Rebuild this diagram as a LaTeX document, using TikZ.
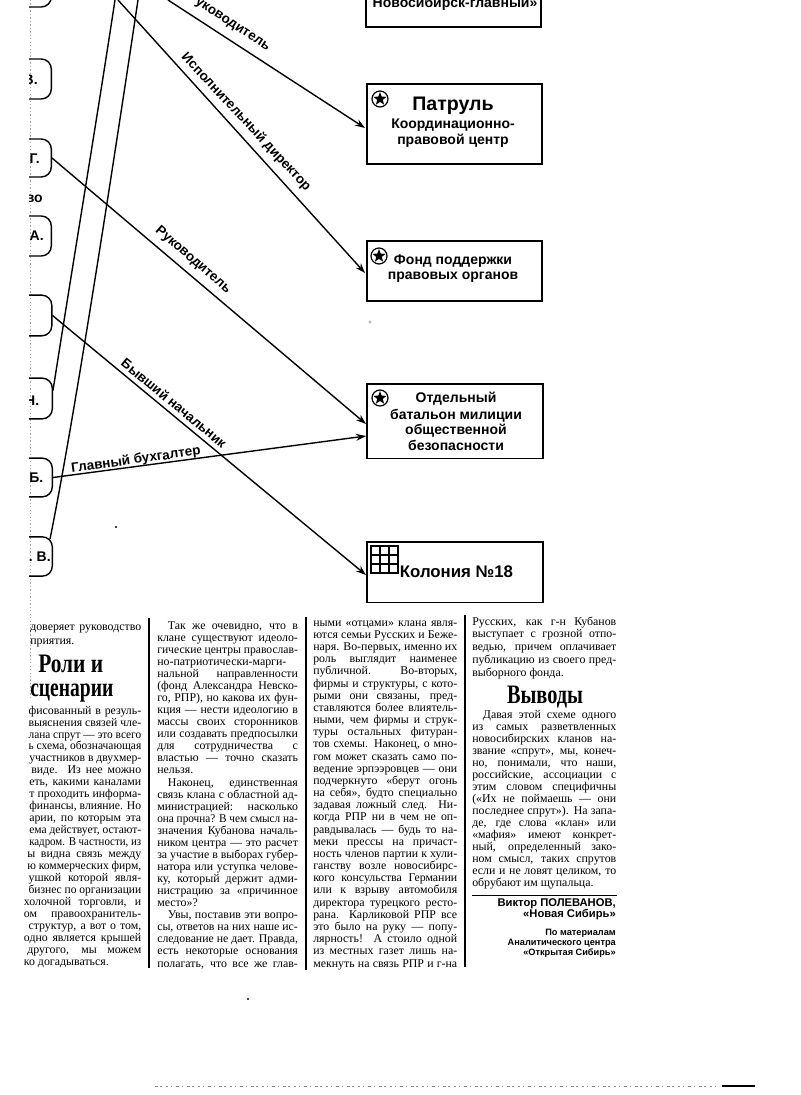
\documentclass[tikz,border=0pt]{standalone}
\usepackage{fontspec}
\setmainfont{Liberation Serif}
\setsansfont{Liberation Sans}
\usetikzlibrary{arrows.meta,shapes.geometric}
\newlength\colw
\newcommand\jl[2][0pt]{\setbox0\hbox{#2}%
  \ifdim\dimexpr\wd0+#1\relax>\colw
    \hbox to\colw{\hskip#1\resizebox{\dimexpr\colw-#1\relax}{\height}{#2}}%
  \else\hbox to\colw{\hskip#1 #2}\fi}
\newcommand\el[2][0pt]{\hbox to\colw{\hskip#1 #2\hfil}}
\newcommand\lead[1]{\baselineskip=#1\lineskiplimit=-\maxdimen}
\tikzset{
  x=0.75pt,y=-0.75pt,
  wire/.style={line width=1.05pt,black},
  arrowed/.style={wire,-{Stealth[length=7.5pt,width=5.2pt]}},
  rbox/.style={draw=black,line width=1.2pt,inner sep=0pt,fill=white},
  lbox/.style={draw=black,line width=1.05pt,rounded corners=7.5pt,inner sep=0pt,minimum width=32.25pt,anchor=east},
  lbl/.style={font=\sffamily\bfseries\fontsize{10.5pt}{10pt}\selectfont,inner sep=0pt},
  boxtxt/.style={font=\sffamily\bfseries\fontsize{10.5pt}{10pt}\selectfont,inner sep=0pt},
  edgetxt/.style={font=\sffamily\bfseries\fontsize{10.1pt}{10pt}\selectfont,inner sep=0pt},
  colbody/.style={font=\fontsize{8.9pt}{9pt}\selectfont,inner sep=0pt,anchor=base west},
  head/.style={font=\bfseries\fontsize{20pt}{20pt}\selectfont,inner sep=0pt},
  credit/.style={font=\sffamily\bfseries\fontsize{8.4pt}{9pt}\selectfont,inner sep=0pt,anchor=base east},
  credits/.style={font=\sffamily\bfseries\fontsize{6.9pt}{8pt}\selectfont,inner sep=0pt,anchor=base east},
  badge/.style={circle,draw=black,line width=0.9pt,minimum size=12pt,inner sep=0pt},
  starf/.style={star,star points=5,star point ratio=2.4,fill=black,minimum size=10.5pt,inner sep=0pt},
  colrule/.style={line width=0.8pt,black},
  noise/.style={black!35,line width=0.4pt},
}
\begin{document}
\begin{tikzpicture}
\useasboundingbox (0,0) rectangle (800,1095);
\fill[white] (0,0) rectangle (800,1095);
% scan edge
\draw[noise,dash pattern=on 1pt off 1.6pt] (30,0) -- (30,700);
\begin{scope}
\clip (29,0) rectangle (800,1095);
\node[lbox,minimum height=40.5pt] (b0) at (52,-20) {};
\node[lbox,minimum height=30pt] (b1) at (52,79) {};
\node[lbox,minimum height=28.5pt] (b2) at (52,158) {};
\node[lbox,minimum height=30pt] (b3) at (52,236) {};
\node[lbox,minimum height=30.5pt] (b4) at (52.5,315.5) {};
\node[lbox,minimum height=30.5pt] (b5) at (53,398.5) {};
\node[lbox,minimum height=29pt] (b6) at (53,477.5) {};
\node[lbox,minimum height=29.5pt] (b7) at (53,556.5) {};
\node[lbl,anchor=east] (t1) at (38,80) {В.};
\node[lbl,anchor=east] (t2) at (40,159) {Г.};
\node[lbl,anchor=east] (t3) at (44,236) {А.};
\node[lbl,anchor=east] (t5) at (39.5,401) {Н.};
\node[lbl,anchor=east] (t6) at (43.5,478) {Б.};
\node[lbl,anchor=east] (t7) at (51,557) {В. В.};
\node[lbl,anchor=east] (t8) at (43,199) {во};
\end{scope}
% right boxes
\node[rbox,minimum width=131.25pt,minimum height=40pt,anchor=south west] (r1) at (365,28) {};
\node[rbox,minimum width=131.25pt,minimum height=60pt,anchor=north west] (r2) at (366,83) {};
\node[rbox,minimum width=131.25pt,minimum height=45pt,anchor=north west] (r3) at (366,240) {};
\node[rbox,minimum width=132pt,minimum height=56pt,anchor=north west] (r4) at (366,383) {};
\node[rbox,minimum width=132pt,minimum height=45.5pt,anchor=north west] (r5) at (366,541) {};
% free ends
\coordinate (tA) at (115,0);
\coordinate (tB) at (138,0);
\coordinate (tC) at (118,0);
\coordinate (tD) at (168,0);
\coordinate (e2) at (365,128);
\coordinate (e3) at (365,273);
\coordinate (e4a) at (366,424);
\coordinate (e4b) at (366,436);
\coordinate (e5) at (366,575);
% connectors
\draw[wire] (tA) .. controls (96,125) and (71,275) .. ([yshift=6pt]b5.east);
\draw[wire] (tB) .. controls (111,180) and (74,420) .. ([xshift=-2.25pt,yshift=-2.25pt]b7.north east);
\draw[arrowed] (tC) -- (e3);
\draw[arrowed] (tD) -- (e2);
\draw[arrowed] (b2.east) -- (e4a);
\draw[arrowed] (b4.east) -- (e5);
\draw[arrowed] (b6.east) -- (e4b);
% connector labels
\begin{scope}
\clip (0,0) rectangle (800,1095);
\node[edgetxt,rotate=-33] (l1) at (229,22) {Руководитель};
\end{scope}
\node[edgetxt,rotate=-47] (l2) at (246,122) {Исполнительный директор};
\node[edgetxt,rotate=-41] (l3) at (193,260) {Руководитель};
\node[edgetxt,rotate=-39.5] (l4) at (174,403) {Бывший начальник};
\node[edgetxt,rotate=7.7] (l5) at (136,460) {Главный бухгалтер};
% box contents
\begin{scope}
\clip (0,0) rectangle (800,1095);
\node[boxtxt] (x1) at (455,3.5) {Новосибирск-главный»};
\end{scope}
\node[boxtxt,font=\sffamily\bfseries\fontsize{14.7pt}{16pt}\selectfont] (x2) at (453,105.5) {Патруль};
\node[boxtxt] (x3) at (453,125.5) {Координационно-};
\node[boxtxt] (x4) at (453,140.5) {правовой центр};
\node[boxtxt] (x5) at (453,261.5) {Фонд поддержки};
\node[boxtxt] (x6) at (453,277.5) {правовых органов};
\node[boxtxt] (x7) at (456,398.5) {Отдельный};
\node[boxtxt] (x8) at (456,415.5) {батальон милиции};
\node[boxtxt] (x9) at (456,430.5) {общественной};
\node[boxtxt] (x10) at (456,445.5) {безопасности};
\node[boxtxt,font=\sffamily\bfseries\fontsize{12.6pt}{13pt}\selectfont] (x11) at (456.5,572) {Колония №18};
% badges
\node[badge] (s2) at (380,99) {}; \node[starf] (s2s) at (380,99) {};
\node[badge] (s3) at (379,256) {}; \node[starf] (s3s) at (379,256) {};
\node[badge] (s4) at (380,398) {}; \node[starf] (s4s) at (380,398) {};
\draw[line width=0.9pt] (371,546) rectangle (398,573);
\foreach \k in {380,389} \draw[line width=0.8pt] (\k,546) -- (\k,573);
\foreach \k in {555,564} \draw[line width=0.8pt] (371,\k) -- (398,\k);
% column rules
\draw[colrule] (149,618) -- (149,968);
\draw[colrule] (306,617) -- (306,970);
\draw[colrule] (465,615) -- (465,967);
% column 1
\begin{scope}
\clip (24,600) rectangle (800,1095);
\node[colbody] (c1a) at (23,644) {\vbox{\setlength\colw{88.5pt}\lead{10.5pt}%
\jl[5.25pt]{доверяет руководство}
\el[5.25pt]{приятия.}}};
\node[head,anchor=base west] (h1) at (38,672) {\resizebox{48.75pt}{\height}{Роли и}};
\node[head,anchor=base west] (h2) at (30,696) {\resizebox{62.25pt}{\height}{сценарии}};
\node[colbody] (c1b) at (23,965) {\vbox{\setlength\colw{88.5pt}\lead{8.96pt}%
\jl[4pt]{фисованный в резуль-}
\jl[4pt]{выяснения связей чле-}
\jl[4pt]{лана спрут — это всего}
\jl[4pt]{ь схема, обозначающая}
\jl[4.5pt]{участников в двухмер-}
\jl[6pt]{виде. Из нее можно}
\jl[4.5pt]{еть, какими каналами}
\jl[4.5pt]{т проходить информа-}
\jl[4.5pt]{финансы, влияние. Но}
\jl[4.5pt]{арии, по которым эта}
\jl[4.5pt]{ема действует, остают-}
\jl[4.5pt]{кадром. В частности, из}
\jl[3pt]{ы видна связь между}
\jl[3pt]{ю коммерческих фирм,}
\jl[4pt]{ушкой которой явля-}
\jl[4pt]{бизнес по организации}
\jl[0.5pt]{холочной торговли, и}
\jl[0.5pt]{ом правоохранитель-}
\jl[4pt]{структур, а вот о том,}
\jl[0.5pt]{одно является крышей}
\jl[3pt]{другого, мы можем}
\el[0.5pt]{ко догадываться.}}};
\end{scope}
% column 2
\node[colbody] (c2) at (157,967) {\vbox{\setlength\colw{105.5pt}\lead{9.05pt}%
\jl[8pt]{Так же очевидно, что в}
\jl{клане существуют идеоло-}
\jl{гические центры православ-}
\el{но-патриотически-марги-}
\jl{нальной направленности}
\jl{(фонд Александра Невско-}
\jl{го, РПР), но какова их фун-}
\jl{кция — нести идеологию в}
\jl{массы своих сторонников}
\jl{или создавать предпосылки}
\jl{для сотрудничества с}
\jl{властью — точно сказать}
\el{нельзя.}
\jl[8pt]{Наконец, единственная}
\jl{связь клана с областной ад-}
\jl{министрацией: насколько}
\jl{она прочна? В чем смысл на-}
\jl{значения Кубанова началь-}
\jl{ником центра — это расчет}
\jl{за участие в выборах губер-}
\jl{натора или уступка челове-}
\jl{ку, который держит адми-}
\jl{нистрацию за «причинное}
\el{место»?}
\jl[8pt]{Увы, поставив эти вопро-}
\jl{сы, ответов на них наше ис-}
\jl{следование не дает. Правда,}
\jl{есть некоторые основания}
\jl{полагать, что все же глав-}}};
% column 3
\node[colbody] (c3) at (313,967) {\vbox{\setlength\colw{108pt}\lead{9.13pt}%
\jl{ными «отцами» клана явля-}
\jl{ются семьи Русских и Беже-}
\jl{наря. Во-первых, именно их}
\jl{роль выглядит наименее}
\jl{публичной. \hfil Во-вторых,}
\jl{фирмы и структуры, с кото-}
\jl{рыми они связаны, пред-}
\jl{ставляются более влиятель-}
\jl{ными, чем фирмы и струк-}
\jl{туры остальных фитуран-}
\jl{тов схемы. Наконец, о мно-}
\jl{гом может сказать само по-}
\jl{ведение эрпээровцев — они}
\jl{подчеркнуто «берут огонь}
\jl{на себя», будто специально}
\jl{задавая ложный след. Ни-}
\jl{когда РПР ни в чем не оп-}
\jl{равдывалась — будь то на-}
\jl{меки прессы на причаст-}
\jl{ность членов партии к хули-}
\jl{ганству возле новосибирс-}
\jl{кого консульства Германии}
\jl{или к взрыву автомобиля}
\jl{директора турецкого ресто-}
\jl{рана. Карликовой РПР все}
\jl{это было на руку — попу-}
\jl{лярность! А стоило одной}
\jl{из местных газет лишь на-}
\jl{мекнуть на связь РПР и г-на}}};
% column 4
\node[colbody] (c4a) at (472,676) {\vbox{\setlength\colw{108pt}\lead{9.56pt}%
\jl{Русских, как г-н Кубанов}
\jl{выступает с грозной отпо-}
\jl{ведью, причем оплачивает}
\jl{публикацию из своего пред-}
\el{выборного фонда.}}};
\node[head,anchor=base] (h3) at (545,703) {\resizebox{57pt}{\height}{Выводы}};
\node[colbody] (c4b) at (472,886) {\vbox{\setlength\colw{108pt}\lead{8.95pt}%
\jl[8pt]{Давая этой схеме одного}
\jl{из самых разветвленных}
\jl{новосибирских кланов на-}
\jl{звание «спрут», мы, конеч-}
\jl{но, понимали, что наши,}
\jl{российские, ассоциации с}
\jl{этим словом специфичны}
\jl{(«Их не поймаешь — они}
\jl{последнее спрут»). На запа-}
\jl{де, где слова «клан» или}
\jl{«мафия» имеют конкрет-}
\jl{ный, определенный зако-}
\jl{ном смысл, таких спрутов}
\jl{если и не ловят целиком, то}
\el{обрубают им щупальца.}}};
\draw[line width=0.7pt] (472,895) -- (617,895);
\node[credit] (k1) at (616,906) {Виктор ПОЛЕВАНОВ,};
\node[credit] (k2) at (616,917) {«Новая Сибирь»};
\node[credits] (k3) at (616,935) {По материалам};
\node[credits] (k4) at (616,945.5) {Аналитического центра};
\node[credits] (k5) at (616,955.5) {«Открытая Сибирь»};
% specks
\fill (116,527) circle (1.1);
\fill (248,999) circle (1.1);
\draw[noise] (370,322) circle (1.2);
\draw[black!45,line width=0.5pt,dash pattern=on 2pt off 2pt on 1pt off 3pt] (155,1086) -- (720,1086);
\draw[black,line width=1.2pt] (722,1086) -- (755,1086);
\end{tikzpicture}
\end{document}
